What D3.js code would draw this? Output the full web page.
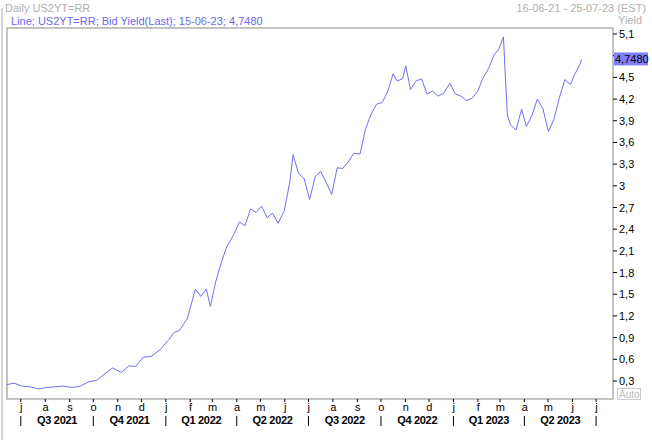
<!DOCTYPE html><html><head><meta charset="utf-8">
<script src="https://cdn.jsdelivr.net/npm/d3@7"></script>
<style>body{margin:0;background:#fff}svg{font-family:"Liberation Sans",Arial,sans-serif}</style></head><body>
<svg id="c" width="652" height="440"></svg>
<script>
const dates=["2021-06-16","2021-06-25","2021-07-05","2021-07-15","2021-07-26","2021-08-05","2021-08-16","2021-08-26","2021-09-07","2021-09-17","2021-09-28","2021-10-08","2021-10-18","2021-10-28","2021-11-08","2021-11-18","2021-11-26","2021-12-06","2021-12-16","2021-12-28","2022-01-07","2022-01-14","2022-01-21","2022-01-31","2022-02-10","2022-02-17","2022-02-24","2022-03-01","2022-03-08","2022-03-15","2022-03-22","2022-03-31","2022-04-07","2022-04-14","2022-04-21","2022-04-28","2022-05-05","2022-05-12","2022-05-19","2022-05-26","2022-06-03","2022-06-10","2022-06-14","2022-06-21","2022-06-28","2022-07-05","2022-07-12","2022-07-19","2022-07-26","2022-08-02","2022-08-09","2022-08-16","2022-08-23","2022-08-30","2022-09-07","2022-09-14","2022-09-21","2022-09-28","2022-10-05","2022-10-12","2022-10-19","2022-10-24","2022-10-31","2022-11-04","2022-11-10","2022-11-17","2022-11-24","2022-12-01","2022-12-08","2022-12-15","2022-12-22","2022-12-30","2023-01-06","2023-01-13","2023-01-20","2023-01-27","2023-02-03","2023-02-10","2023-02-17","2023-02-24","2023-03-02","2023-03-08","2023-03-10","2023-03-13","2023-03-17","2023-03-24","2023-03-31","2023-04-06","2023-04-13","2023-04-20","2023-04-27","2023-05-04","2023-05-11","2023-05-18","2023-05-25","2023-06-01","2023-06-06","2023-06-13","2023-06-15"];
const yields=[0.25,0.27,0.23,0.22,0.19,0.21,0.22,0.23,0.21,0.23,0.29,0.31,0.40,0.48,0.42,0.51,0.50,0.63,0.64,0.74,0.87,0.97,1.00,1.17,1.57,1.47,1.57,1.33,1.68,1.94,2.16,2.33,2.50,2.45,2.68,2.63,2.72,2.56,2.62,2.48,2.66,3.06,3.43,3.17,3.10,2.81,3.12,3.20,3.05,2.88,3.25,3.24,3.33,3.45,3.44,3.79,3.99,4.13,4.15,4.30,4.55,4.45,4.48,4.66,4.33,4.45,4.48,4.27,4.31,4.24,4.28,4.42,4.27,4.24,4.18,4.21,4.30,4.49,4.62,4.81,4.89,5.06,4.60,3.98,3.84,3.77,4.06,3.82,3.97,4.20,4.07,3.75,3.92,4.22,4.47,4.40,4.53,4.68,4.748];
const yTicks=[0.3,0.6,0.9,1.2,1.5,1.8,2.1,2.4,2.7,3,3.3,3.6,3.9,4.2,4.5,4.8,5.1];
const monthLabels=["j","a","s","o","n","d","j","f","m","a","m","j","j","a","s","o","n","d","j","f","m","a","m","j","j"];
const quarterLabels=["Q3 2021","Q4 2021","Q1 2022","Q2 2022","Q3 2022","Q4 2022","Q1 2023","Q2 2023"];

const svg=d3.select("#c");
const pd=d3.timeParse("%Y-%m-%d");
const data=dates.map((d,i)=>({d:pd(d),v:yields[i]}));
const L=7,R=613,T=28,B=399;
const x=d3.scaleTime().domain([pd("2021-06-16"),pd("2023-07-25")]).range([L,R]);
const y=d3.scaleLinear().domain([0.3,5.1]).range([381,34]);
const fmt=v=>String(+v.toFixed(1)).replace(".",",");

svg.append("line").attr("x1",2).attr("x2",2).attr("y1",8).attr("y2",440).attr("stroke","#aaa");
svg.append("text").attr("x",5).attr("y",12).attr("font-size",11).attr("fill","#b0b0b0").text("Daily US2YT=RR");
svg.append("text").attr("x",646).attr("y",12).attr("text-anchor","end").attr("font-size",11).attr("fill","#b0b0b0").text("16-06-21 - 25-07-23 (EST)");
svg.append("rect").attr("x",L).attr("y",T).attr("width",R-L).attr("height",B-T).attr("fill","#fff").attr("stroke","#888");
svg.append("text").attr("x",11).attr("y",25).attr("font-size",11).attr("fill","#6a6ae8").text("Line; US2YT=RR; Bid Yield(Last); 15-06-23; 4,7480");
svg.append("text").attr("x",618).attr("y",24).attr("font-size",11).attr("fill","#b0b0b0").text("Yield");

svg.append("path").datum(data).attr("fill","none").attr("stroke","#7070f0").attr("stroke-width",1)
 .attr("d",d3.line().x(d=>x(d.d)).y(d=>y(d.v)));

const ya=svg.append("g");
yTicks.forEach(t=>{
 ya.append("line").attr("x1",R).attr("x2",R+4).attr("y1",y(t)).attr("y2",y(t)).attr("stroke","#000");
 if(Math.abs(t-4.8)>0.01) ya.append("text").attr("x",R+6).attr("y",y(t)+4).attr("font-size",11).attr("fill","#000").text(fmt(t));
});
const last=data[data.length-1];
svg.append("rect").attr("x",R+1).attr("y",y(last.v)-7).attr("width",34).attr("height",13).attr("fill","#8080ff");
svg.append("text").attr("x",R+2).attr("y",y(last.v)+4).attr("font-size",11).attr("fill","#000").text(last.v.toFixed(4).replace(".",","));
svg.append("rect").attr("x",617.5).attr("y",388.5).attr("width",23).attr("height",11).attr("fill","#fff").attr("stroke","#ccc");
svg.append("text").attr("x",619).attr("y",398).attr("font-size",10).attr("fill","#bbb").text("Auto");

const months=d3.timeMonth.range(pd("2021-07-01"),pd("2023-07-26"));
months.forEach((m,i)=>{
 const mid=x(d3.timeDay.offset(m,3));
 svg.append("text").attr("x",mid).attr("y",411).attr("text-anchor","middle").attr("font-size",11).attr("fill","#000").text(monthLabels[i]);
 svg.append("line").attr("x1",x(m)+2).attr("x2",x(m)+2).attr("y1",B).attr("y2",B+3).attr("stroke","#000");
});
const qs=d3.timeMonth.every(3).range(pd("2021-07-01"),pd("2023-08-01"));
qs.forEach((q,i)=>{
 svg.append("line").attr("x1",x(q)+2).attr("x2",x(q)+2).attr("y1",416).attr("y2",426).attr("stroke","#000");
 if(i<quarterLabels.length){
  const nx=x(d3.timeMonth.offset(q,3));
  svg.append("text").attr("x",(x(q)+nx)/2+2).attr("y",424).attr("text-anchor","middle").attr("font-size",11).attr("font-weight","bold").attr("fill","#000").attr("letter-spacing",-0.3).text(quarterLabels[i]);
 }
});
</script></body></html>
